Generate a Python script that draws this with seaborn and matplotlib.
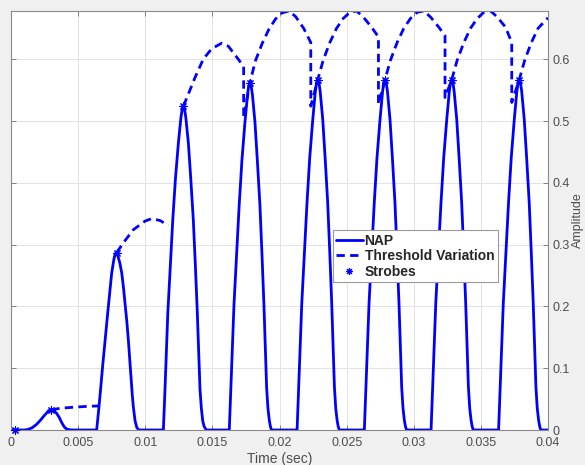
import numpy as np
import pandas as pd
import matplotlib
matplotlib.use("Agg")
import matplotlib.pyplot as plt
from matplotlib.lines import Line2D
import seaborn as sns

# NAP curve (time in s, amplitude)
nap_time = [
    0.0000, 0.0010, 0.0013, 0.0016, 0.0019, 0.0022, 0.0025, 0.0028, 0.0030,
    0.0032, 0.0034, 0.0036, 0.0038, 0.0040, 0.0042, 0.0045,
    0.00638, 0.00652, 0.00667, 0.00682, 0.00700, 0.00722, 0.00750, 0.00759, 0.00767,
    0.00775, 0.00782, 0.00790, 0.00797, 0.00811, 0.00825, 0.00838, 0.00852, 0.00863,
    0.00874, 0.00884, 0.00894, 0.00903, 0.00911, 0.00924, 0.00937, 0.00952,
    0.01135, 0.01147, 0.01168, 0.01186, 0.01205, 0.01225, 0.01247, 0.01257, 0.01266,
    0.01275, 0.01284, 0.01293, 0.01302, 0.01311, 0.01321, 0.01339, 0.01358, 0.01373,
    0.01388, 0.01398, 0.01408, 0.01418, 0.01428, 0.01438, 0.01454,
    0.01626, 0.01638, 0.01661, 0.01680, 0.01700, 0.01720, 0.01743, 0.01753, 0.01762,
    0.01771, 0.01780, 0.01789, 0.01798, 0.01807, 0.01817, 0.01835, 0.01854, 0.01869,
    0.01884, 0.01894, 0.01904, 0.01914, 0.01924, 0.01932, 0.01940,
    0.02131, 0.02143, 0.02166, 0.02185, 0.02205, 0.02225, 0.02248, 0.02258, 0.02267,
    0.02276, 0.02285, 0.02294, 0.02303, 0.02312, 0.02322, 0.02340, 0.02359, 0.02374,
    0.02389, 0.02399, 0.02409, 0.02419, 0.02429, 0.02437, 0.02445,
    0.02632, 0.02644, 0.02667, 0.02686, 0.02706, 0.02726, 0.02749, 0.02759, 0.02768,
    0.02777, 0.02786, 0.02795, 0.02804, 0.02813, 0.02823, 0.02841, 0.02860, 0.02875,
    0.02890, 0.02900, 0.02910, 0.02920, 0.02930, 0.02938, 0.02946,
    0.03129, 0.03141, 0.03164, 0.03183, 0.03203, 0.03223, 0.03246, 0.03256, 0.03265,
    0.03274, 0.03283, 0.03292, 0.03301, 0.03310, 0.03320, 0.03338, 0.03357, 0.03372,
    0.03387, 0.03397, 0.03407, 0.03417, 0.03427, 0.03435, 0.03443,
    0.03632, 0.03644, 0.03667, 0.03686, 0.03706, 0.03726, 0.03749, 0.03759, 0.03768,
    0.03777, 0.03786, 0.03795, 0.03804, 0.03813, 0.03823, 0.03841, 0.03860, 0.03875,
    0.03890, 0.03900, 0.03910, 0.03920, 0.03930, 0.03938, 0.03946, 0.04000,
]
nap_amp = [
    0.0, 0.0, 0.001, 0.004, 0.009, 0.016, 0.024, 0.031, 0.033,
    0.031, 0.027, 0.020, 0.011, 0.004, 0.001, 0.0,
    0.0, 0.030, 0.065, 0.102, 0.143, 0.193, 0.254, 0.266, 0.277,
    0.284, 0.287, 0.285, 0.281, 0.270, 0.254, 0.230, 0.200, 0.175,
    0.146, 0.115, 0.085, 0.058, 0.038, 0.015, 0.004, 0.0,
    0.0, 0.065, 0.189, 0.263, 0.340, 0.407, 0.465, 0.487, 0.506,
    0.519, 0.524, 0.519, 0.506, 0.487, 0.465, 0.407, 0.340, 0.268,
    0.189, 0.125, 0.065, 0.035, 0.015, 0.006, 0.0,
    0.0, 0.069, 0.203, 0.283, 0.365, 0.436, 0.499, 0.522, 0.543,
    0.557, 0.562, 0.557, 0.543, 0.522, 0.499, 0.436, 0.365, 0.287,
    0.203, 0.134, 0.069, 0.035, 0.016, 0.006, 0.0,
    0.0, 0.070, 0.205, 0.285, 0.368, 0.440, 0.503, 0.527, 0.548,
    0.562, 0.567, 0.562, 0.548, 0.527, 0.503, 0.440, 0.368, 0.290,
    0.205, 0.135, 0.070, 0.035, 0.016, 0.006, 0.0,
    0.0, 0.070, 0.205, 0.285, 0.368, 0.440, 0.503, 0.527, 0.548,
    0.562, 0.567, 0.562, 0.548, 0.527, 0.503, 0.440, 0.368, 0.290,
    0.205, 0.135, 0.070, 0.035, 0.016, 0.006, 0.0,
    0.0, 0.070, 0.205, 0.285, 0.368, 0.440, 0.503, 0.527, 0.548,
    0.562, 0.567, 0.562, 0.548, 0.527, 0.503, 0.440, 0.368, 0.290,
    0.205, 0.135, 0.070, 0.035, 0.016, 0.006, 0.0,
    0.0, 0.070, 0.205, 0.285, 0.368, 0.440, 0.503, 0.527, 0.548,
    0.562, 0.567, 0.562, 0.548, 0.527, 0.503, 0.440, 0.368, 0.290,
    0.205, 0.135, 0.070, 0.035, 0.016, 0.006, 0.0, 0.0,
]

# threshold variation, in the pieces that are drawn separately
thr_time = [
    0.0030, 0.0035, 0.0040, 0.0045, 0.0050, 0.0055, 0.0060, 0.0065,
    0.00787, 0.00837, 0.00911, 0.00998, 0.01048, 0.01110, 0.01172,
    0.01284, 0.01320, 0.01370, 0.01432, 0.01495, 0.01570, 0.01619, 0.01693, 0.01733, 0.01733,
    0.01780, 0.01820, 0.01870, 0.01920, 0.01970, 0.02020, 0.02070, 0.02120, 0.02180, 0.02233, 0.02233,
    0.02285, 0.02325, 0.02375, 0.02425, 0.02475, 0.02525, 0.02575, 0.02625, 0.02685, 0.02737, 0.02737,
    0.02786, 0.02826, 0.02876, 0.02926, 0.02976, 0.03026, 0.03076, 0.03126, 0.03186, 0.03233, 0.03233,
    0.03283, 0.03323, 0.03373, 0.03423, 0.03473, 0.03523, 0.03573, 0.03623, 0.03683, 0.03730, 0.03730,
    0.03786, 0.03826, 0.03876, 0.03926, 0.04000,
]
thr_amp = [
    0.033, 0.0345, 0.0357, 0.0366, 0.0374, 0.0380, 0.0385, 0.0390,
    0.287, 0.303, 0.324, 0.338, 0.342, 0.339, 0.331,
    0.524, 0.543, 0.570, 0.600, 0.617, 0.626, 0.621, 0.600, 0.588, 0.505,
    0.562, 0.597, 0.625, 0.648, 0.665, 0.675, 0.678, 0.669, 0.650, 0.627, 0.524,
    0.567, 0.598, 0.627, 0.650, 0.666, 0.676, 0.678, 0.668, 0.652, 0.636, 0.527,
    0.567, 0.598, 0.627, 0.650, 0.666, 0.676, 0.678, 0.668, 0.652, 0.638, 0.538,
    0.567, 0.598, 0.627, 0.650, 0.666, 0.676, 0.678, 0.668, 0.652, 0.627, 0.530,
    0.567, 0.598, 0.627, 0.650, 0.667,
]
thr_seg = [0] * 8 + [1] * 7 + [2] * (len(thr_time) - 15)

strobe_time = [0.0003, 0.0030, 0.00787, 0.01284, 0.0178, 0.02285, 0.02786, 0.03283, 0.03786]
strobe_amp = [0.0, 0.033, 0.287, 0.524, 0.562, 0.567, 0.567, 0.567, 0.567]

x_ticks = [0, 0.005, 0.01, 0.015, 0.02, 0.025, 0.03, 0.035, 0.04]
x_tick_labels = ["0", "0.005", "0.01", "0.015", "0.02", "0.025", "0.03", "0.035", "0.04"]
y_ticks = [0, 0.1, 0.2, 0.3, 0.4, 0.5, 0.6]
y_tick_labels = ["0", "0.1", "0.2", "0.3", "0.4", "0.5", "0.6"]

sns.set_theme(style="whitegrid")
plt.rcParams["font.family"] = ["Liberation Sans", "DejaVu Sans"]

blue = "#0000ff"
dash = (0, (3.0, 1.9))
nap_df = pd.DataFrame({"t": nap_time, "amp": nap_amp})
thr_df = pd.DataFrame({"t": thr_time, "amp": thr_amp, "seg": thr_seg})
strobe_df = pd.DataFrame({"t": strobe_time, "amp": strobe_amp})

fig = plt.figure(figsize=(5.85, 4.65), dpi=100, facecolor="#f0f0f0")
ax = fig.add_axes([11 / 585, 35 / 465, 537 / 585, 419 / 465])
ax.set_facecolor("white")

sns.lineplot(data=nap_df, x="t", y="amp", sort=False, estimator=None,
             color=blue, linewidth=2.0, ax=ax)
sns.lineplot(data=thr_df, x="t", y="amp", units="seg", sort=False, estimator=None,
             color=blue, linewidth=2.0, linestyle=dash, ax=ax)
ax.scatter(strobe_df["t"], strobe_df["amp"], marker=(8, 2, 0), s=28,
           color=blue, linewidths=0.8, zorder=3, clip_on=False)

ax.set_xlim(0, 0.04)
ax.set_ylim(0, 0.678)
ax.set_xticks(x_ticks)
ax.set_xticklabels(x_tick_labels)
ax.set_yticks(y_ticks)
ax.set_yticklabels(y_tick_labels)

tick_col = "#4d4d4d"
ax.tick_params(axis="x", direction="in", length=3.5, width=0.7, color="#7f7f7f",
               top=True, bottom=True, labelsize=9, labelcolor=tick_col, pad=5)
ax.tick_params(axis="y", direction="in", length=3.5, width=0.7, color="#7f7f7f",
               left=True, right=True, labelleft=False, labelright=True,
               labelsize=9, labelcolor=tick_col, pad=3)
ax.grid(True, color="#e3e3e3", linewidth=0.7)
for sp in ax.spines.values():
    sp.set_visible(True)
    sp.set_color("#8a8a8a")
    sp.set_linewidth(0.8)

ax.set_xlabel("Time (sec)", fontsize=10, color=tick_col, labelpad=2)
ax.yaxis.set_label_position("right")
ax.set_ylabel("Amplitude", fontsize=9, color=tick_col, labelpad=2)

handles = [
    Line2D([], [], color=blue, linewidth=2.0),
    Line2D([], [], color=blue, linewidth=2.0, linestyle=dash),
    Line2D([], [], color=blue, linestyle="none", marker=(8, 2, 0), markersize=5,
           markeredgewidth=0.8),
]
leg = ax.legend(handles, ["NAP", "Threshold Variation", "Strobes"],
                loc="upper left", bbox_to_anchor=(0.599, 0.477),
                prop={"weight": "bold", "size": 10}, frameon=True, fancybox=False,
                framealpha=1, edgecolor="#9a9a9a", borderpad=0.25,
                labelspacing=0.12, handlelength=1.9, handletextpad=0.15,
                borderaxespad=0)
leg.get_frame().set_linewidth(0.8)

fig.savefig("out.png", dpi=100, facecolor=fig.get_facecolor())
